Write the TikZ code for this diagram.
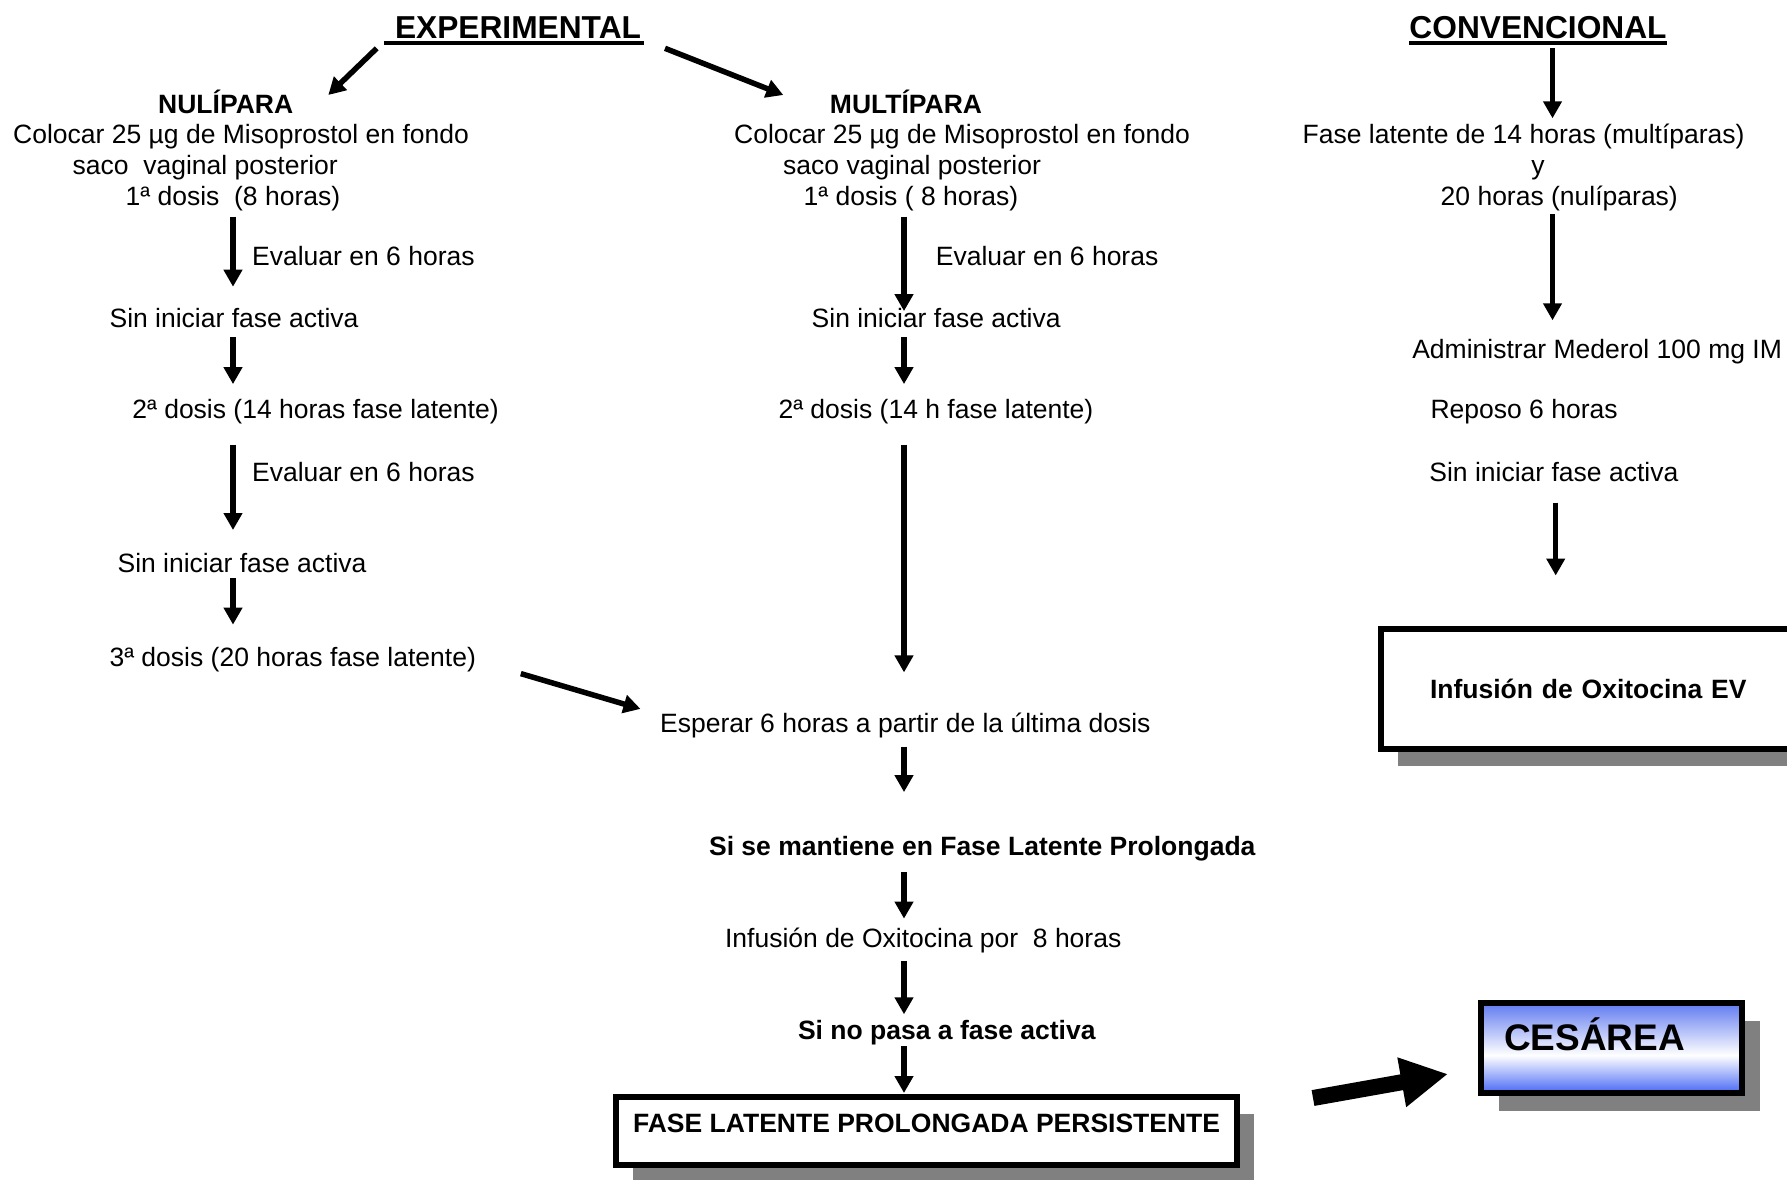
\documentclass[tikz,border=0pt]{standalone}
\usepackage{fontspec}
\setmainfont{Liberation Sans}
\usetikzlibrary{arrows.meta,calc,shadows}

\definecolor{shadowgray}{RGB}{128,128,128}
\definecolor{cesbot}{RGB}{72,104,246}
\definecolor{cestop}{RGB}{96,122,240}
% blue at top and bottom, white band a little below the middle
\pgfdeclareverticalshading{cesshade}{100bp}{color(0bp)=(cesbot); color(25bp)=(cesbot); color(46bp)=(white); color(75bp)=(cestop); color(100bp)=(cestop)}

\tikzset{
  body/.style={font=\fontsize{26.5}{30.7}\selectfont},
  txt/.style={body, inner sep=0pt, anchor=base west},
  btxt/.style={txt, font=\fontsize{26.5}{30.7}\selectfont\bfseries},
  hdr/.style={font=\fontsize{31.7}{36}\selectfont\bfseries, inner sep=0pt, anchor=base},
  uline/.style={line width=4pt},
  arr/.style={line width=5.5pt, -{Triangle[width=18pt,length=17pt]}},
  fat/.style={line width=16pt, -{Triangle[width=47pt,length=47pt]}},
  shadowed/.style={drop shadow={shadow xshift=17pt, shadow yshift=-17pt, fill=shadowgray, opacity=1}},
  endbox/.style={draw, line width=6pt, fill=white, outer sep=0pt, inner sep=0pt,
    font=\fontsize{26.5}{30.7}\selectfont\bfseries, text height=19pt, text depth=17pt,
    minimum width=621pt, minimum height=68pt, shadowed},
  oxbox/.style={draw, line width=6pt, fill=white, outer sep=0pt, inner xsep=48.7pt, inner ysep=0pt,
    font=\fontsize{26.5}{30.7}\selectfont\bfseries, text height=19pt, text depth=0pt,
    text width=431pt, align=left, minimum height=120pt, shadowed},
  cesbox/.style={draw, line width=6pt, shade, shading=cesshade, outer sep=0pt, inner xsep=22.7pt, inner ysep=0pt,
    font=\fontsize{37}{40}\selectfont\bfseries, text height=26.5pt, text depth=22.5pt,
    text width=215pt, align=left, minimum height=90pt, minimum width=260.7pt,
    drop shadow={shadow xshift=18pt, shadow yshift=-18pt, fill=shadowgray, opacity=1}}
}

\begin{document}
\begin{tikzpicture}[x=1pt, y=-1pt]
\path[use as bounding box] (0,0) rectangle (1787,1179);
\fill[white] (0,0) rectangle (1787,1179);
\clip (0,0) rectangle (1787,1179);

% column guides for the vertical arrows
\coordinate (nx) at (233,0);
\coordinate (mx) at (904,0);
\coordinate (cx1) at (1552.5,0);
\coordinate (cx2) at (1555.7,0);

% headings
\node[hdr] (exp) at (518,38.3) {EXPERIMENTAL};
\node[hdr] (conv) at (1538,38.3) {CONVENCIONAL};
\draw[uline] ($(exp.base west)+(-11,4.7)$) -- ($(exp.base east)+(3,4.7)$);
\draw[uline] ($(conv.base west)+(0,4.7)$) -- ($(conv.base east)+(0,4.7)$);

% nulliparous branch
\node[btxt, anchor=base] (nulH) at (225.7,113.3) {NULÍPARA};
\node[txt] (nulA) at (13,143.5) {Colocar 25 µg de Misoprostol en fondo};
\node[txt] (nulB) at (72.5,174) {saco\ \ vaginal posterior};
\node[txt] (nulC) at (125.5,205) {1ª dosis\ \ (8 horas)};
\node[txt] (nulE1) at (252,265) {Evaluar en 6 horas};
\node[txt] (nulS1) at (109.4,327.5) {Sin iniciar fase activa};
\node[txt] (nulD2) at (132.2,418.7) {2ª dosis (14 horas fase latente)};
\node[txt] (nulE2) at (252,481.3) {Evaluar en 6 horas};
\node[txt] (nulS2) at (117.4,572.5) {Sin iniciar fase activa};
\node[txt] (nulD3) at (109.4,666) {3ª dosis (20 horas fase latente)};

% multiparous branch
\node[btxt, anchor=base] (mulH) at (906,113.3) {MULTÍPARA};
\node[txt] (mulA) at (734,143.5) {Colocar 25 µg de Misoprostol en fondo};
\node[txt] (mulB) at (783,174) {saco vaginal posterior};
\node[txt] (mulC) at (803.5,205) {1ª dosis ( 8 horas)};
\node[txt] (mulE1) at (935.7,265) {Evaluar en 6 horas};
\node[txt] (mulS1) at (811.5,327.5) {Sin iniciar fase activa};
\node[txt] (mulD2) at (778.4,418.7) {2ª dosis (14 h fase latente)};

% common path
\node[txt] (wait) at (659.9,732.1) {Esperar 6 horas a partir de la última dosis};
\node[btxt] (keep) at (708.9,855.2) {Si se mantiene en Fase Latente Prolongada};
\node[txt] (oxi8) at (724.9,947.5) {Infusión de Oxitocina por\ \ 8 horas};
\node[btxt] (nopass) at (797.8,1039.8) {Si no pasa a fase activa};
\node[endbox] (flpp) at (926.6,1131) {FASE LATENTE PROLONGADA PERSISTENTE};

% conventional branch
\node[txt] (cvA) at (1302.5,143.5) {Fase latente de 14 horas (multíparas)};
\node[txt, anchor=base] (cvB) at (1538,174) {y};
\node[txt] (cvC) at (1440.5,205) {20 horas (nulíparas)};
\node[txt] (cvAdm) at (1412.1,358.2) {Administrar Mederol 100 mg IM};
\node[txt] (cvRep) at (1430.3,418.7) {Reposo 6 horas};
\node[txt] (cvSin) at (1429.2,481.3) {Sin iniciar fase activa};
\node[oxbox, anchor=west] (oxbox) at (1381.3,688.5) {Infusión de Oxitocina EV};

% outcome
\node[cesbox, anchor=north west] (ces) at (1481.3,1003) {CESÁREA};

% arrows from the headings
\draw[arr] ($(exp.base)+(-141.3,10)$) -- ($(nulH.base)+(102.6,-18.3)$);
\draw[arr] ($(exp.base)+(147,10)$) -- ($(mulH.base)+(-122.7,-18.3)$);
\draw[arr] ($(conv.base -| cx1)+(0,10)$) -- ($(cvA.base -| cx1)+(0,-25.2)$);

% nulliparous arrows
\draw[arr] ($(nulC.base -| nx)+(0,11.7)$) -- ($(nulS1.base -| nx)+(0,-40.8)$);
\draw[arr] ($(nulS1.base -| nx)+(0,9.9)$) -- ($(nulD2.base -| nx)+(0,-34.6)$);
\draw[arr] ($(nulD2.base -| nx)+(0,25.8)$) -- ($(nulS2.base -| nx)+(0,-42.5)$);
\draw[arr] ($(nulS2.base -| nx)+(0,5.3)$) -- ($(nulD3.base -| nx)+(0,-41.4)$);
\draw[arr] ($(nulD3.base west)+(411.4,7.6)$) -- ($(wait.base west)+(-19.4,-23.2)$);

% multiparous and common arrows
\draw[arr] ($(mulC.base -| mx)+(0,11.5)$) -- ($(mulS1.base -| mx)+(0,-16.4)$);
\draw[arr] ($(mulS1.base -| mx)+(0,9.9)$) -- ($(mulD2.base -| mx)+(0,-34.6)$);
\draw[arr] ($(mulD2.base -| mx)+(0,25.8)$) -- ($(wait.base -| mx)+(0,-59.7)$);
\draw[arr] ($(wait.base -| mx)+(0,14.4)$) -- ($(keep.base -| mx)+(0,-63.1)$);
\draw[arr] ($(keep.base -| mx)+(0,16.7)$) -- ($(oxi8.base -| mx)+(0,-28.9)$);
\draw[arr] ($(oxi8.base -| mx)+(0,13.3)$) -- ($(nopass.base -| mx)+(0,-25.5)$);
\draw[arr] ($(nopass.base -| mx)+(0,6.4)$) -- ($(flpp.north -| mx)+(0,-4)$);

% conventional arrows
\draw[arr] ($(cvC.base -| cx1)+(0,9.3)$) -- ($(cvAdm.base -| cx1)+(0,-37.9)$);
\draw[arr] ($(cvSin.base -| cx2)+(0,21.3)$) -- ($(oxbox.north -| cx2)+(0,-53)$);

% to caesarean
\draw[fat] ($(flpp.east)+(75.9,-33)$) -- ($(ces.west)+(-33.3,26)$);
\end{tikzpicture}
\end{document}
